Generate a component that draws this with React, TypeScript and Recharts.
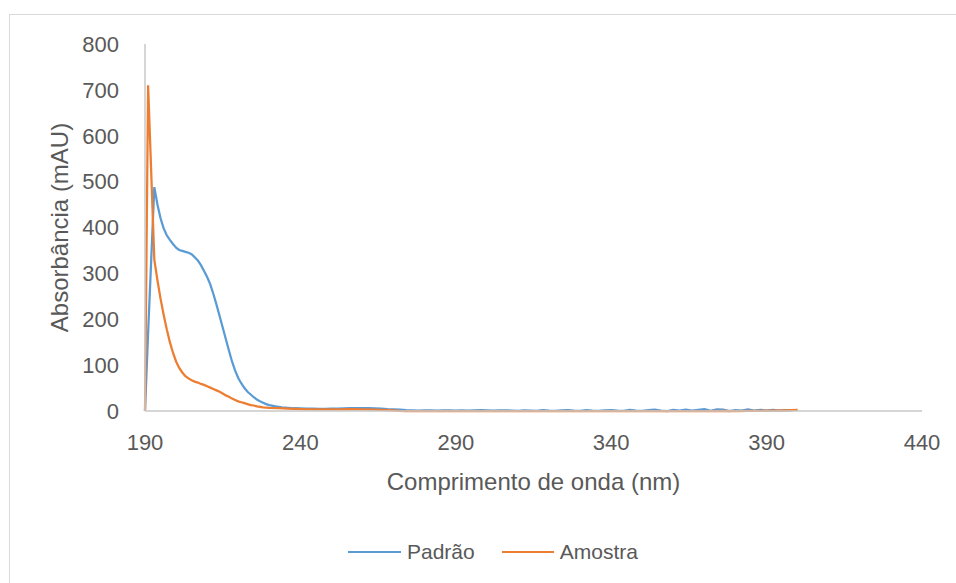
import { LineChart, Line, XAxis, YAxis, Legend } from "recharts";

// Padrão (blue) - wavelength (nm) and absorbance (mAU)
const padraoNm = [
  190, 191, 192, 193, 194, 195, 196, 197, 198, 199, 200, 201, 202, 203, 204, 205,
  206, 207, 208, 209, 210, 211, 212, 213, 214, 215, 216, 217, 218, 219, 220, 221,
  222, 223, 224, 225, 226, 227, 228, 229, 230, 232, 234, 236, 238, 240, 242, 244,
  246, 248, 250, 252, 254, 256, 258, 260, 262, 264, 266, 268, 270, 272, 274, 276,
  278, 280, 282, 284, 286, 288, 290, 292, 294, 296, 298, 300, 302, 304, 306, 308,
  310, 312, 314, 316, 318, 320, 322, 324, 326, 328, 330, 332, 334, 336, 338, 340,
  342, 344, 346, 348, 350, 352, 354, 356, 358, 360, 362, 364, 366, 368, 370, 372,
  374, 376, 378, 380, 382, 384, 386, 388, 390, 392, 394, 396, 398,
];
const padraoAbs = [
  0, 170, 330, 488, 450, 420, 398, 383, 373, 364, 356, 351, 349, 347, 345, 342,
  335, 328, 318, 305, 292, 276, 255, 232, 207, 182, 157, 132, 108, 88, 72, 60,
  50, 42, 36, 30, 25, 21, 18, 15, 13, 10, 8, 7, 6, 5.5, 5, 5,
  4.5, 4.5, 5, 5, 5.5, 6, 6, 6.5, 6, 5.5, 5, 4, 3.5, 3, 2, 1.5,
  1, 1.5, 1.5, 1, 1.5, 1.5, 1, 1.5, 1, 1.5, 2, 1.5, 1, 1.5, 1.5, 1,
  0.5, 1.5, 1, 0.5, 2, 1, 0.5, 1.5, 2, 1, 0.5, 2, 1, 0.5, 1.5, 2,
  1, 0.5, 2.5, 1, 0.5, 2, 3, 1, 0, 2.5, 1, 3, 1, 2.5, 4, 0.5,
  3.5, 3, 0, 2, 1, 3.5, 1, 2.5, 1, 2.5, 1, 2, 1.5,
];

// Amostra (orange)
const amostraNm = [
  190, 191, 192, 193, 194, 195, 196, 197, 198, 199, 200, 201, 202, 203, 204, 205,
  206, 207, 208, 209, 210, 211, 212, 213, 214, 215, 216, 217, 218, 219, 220, 221,
  222, 223, 224, 225, 226, 228, 230, 233, 236, 240, 244, 248, 252, 256, 260, 264,
  266, 268, 270, 272, 274, 300, 330, 360, 372, 376, 380, 384, 388, 392, 396, 400,
];
const amostraAbs = [
  0, 710, 520, 330, 285, 245, 210, 178, 150, 127, 108, 94, 84, 76, 71, 67,
  64, 62, 59, 57, 54, 51, 48, 45, 42, 38, 34, 31, 27, 24, 21, 19,
  17, 15, 13, 12, 10, 8, 7, 6, 5, 4, 3.5, 3.5, 3.5, 4, 3.5, 3,
  2.5, 2, 1.5, 0.5, 0, 0, 0, 0, 0, 0.5, 0, 0.5, 0.5, 1, 1.5, 2.5,
];

const xTicks = [190, 240, 290, 340, 390, 440];
const yTicks = [0, 100, 200, 300, 400, 500, 600, 700, 800];

const padraoData = padraoNm.map((nm, i) => ({ nm, abs: padraoAbs[i] }));
const amostraData = amostraNm.map((nm, i) => ({ nm, abs: amostraAbs[i] }));

const TEXT = "#595959";
const AXIS = "#c9c9c9";
const BLUE = "#5B9BD5";
const ORANGE = "#ED7D31";

const renderLegend = () => (
  <div
    style={{
      height: 30,
      display: "flex",
      alignItems: "center",
      marginLeft: 338,
      fontSize: 21,
      color: TEXT,
    }}
  >
    <span style={{ width: 53, height: 2.5, background: BLUE, marginRight: 6 }} />
    <span style={{ marginRight: 27 }}>Padrão</span>
    <span style={{ width: 52, height: 2.5, background: ORANGE, marginRight: 6 }} />
    <span>Amostra</span>
  </div>
);

export default function App() {
  return (
    <div
      style={{
        position: "fixed",
        left: 0,
        top: 0,
        width: 956,
        height: 583,
        overflow: "hidden",
        background: "#fff",
        fontFamily: "'Liberation Sans', Arial, sans-serif",
      }}
    >
      <div
        style={{
          position: "absolute",
          left: 9,
          top: 14,
          width: 1000,
          height: 620,
          border: "1.5px solid #d9d9d9",
        }}
      />
      <div style={{ position: "absolute", left: 0, top: 0 }}>
        <LineChart
          width={956}
          height={583}
          margin={{ top: 44, right: 34, bottom: 16, left: 10 }}
          style={{ fontFamily: "'Liberation Sans', Arial, sans-serif" }}
        >
          <XAxis
            dataKey="nm"
            type="number"
            domain={[190, 440]}
            ticks={xTicks}
            interval={0}
            allowDuplicatedCategory={false}
            height={126}
            stroke={AXIS}
            strokeWidth={1.5}
            tickLine={false}
            tickSize={0}
            tickMargin={23}
            tick={{ fill: TEXT, fontSize: 22 }}
            label={{
              value: "Comprimento de onda (nm)",
              position: "insideTop",
              offset: 62,
              fill: TEXT,
              fontSize: 24,
            }}
          />
          <YAxis
            type="number"
            domain={[0, 800]}
            ticks={yTicks}
            interval={0}
            width={135}
            stroke={AXIS}
            strokeWidth={1.5}
            tickLine={false}
            tickSize={0}
            tickMargin={26}
            tick={{ fill: TEXT, fontSize: 22 }}
            label={{
              value: "Absorbância (mAU)",
              angle: -90,
              position: "center",
              dx: -18.5,
              fill: TEXT,
              fontSize: 24,
            }}
          />
          <Legend verticalAlign="bottom" content={renderLegend} />
          <Line
            data={padraoData}
            dataKey="abs"
            name="Padrão"
            type="linear"
            stroke={BLUE}
            strokeWidth={2.25}
            dot={false}
            isAnimationActive={false}
          />
          <Line
            data={amostraData}
            dataKey="abs"
            name="Amostra"
            type="linear"
            stroke={ORANGE}
            strokeWidth={2.25}
            dot={false}
            isAnimationActive={false}
          />
        </LineChart>
      </div>
    </div>
  );
}
